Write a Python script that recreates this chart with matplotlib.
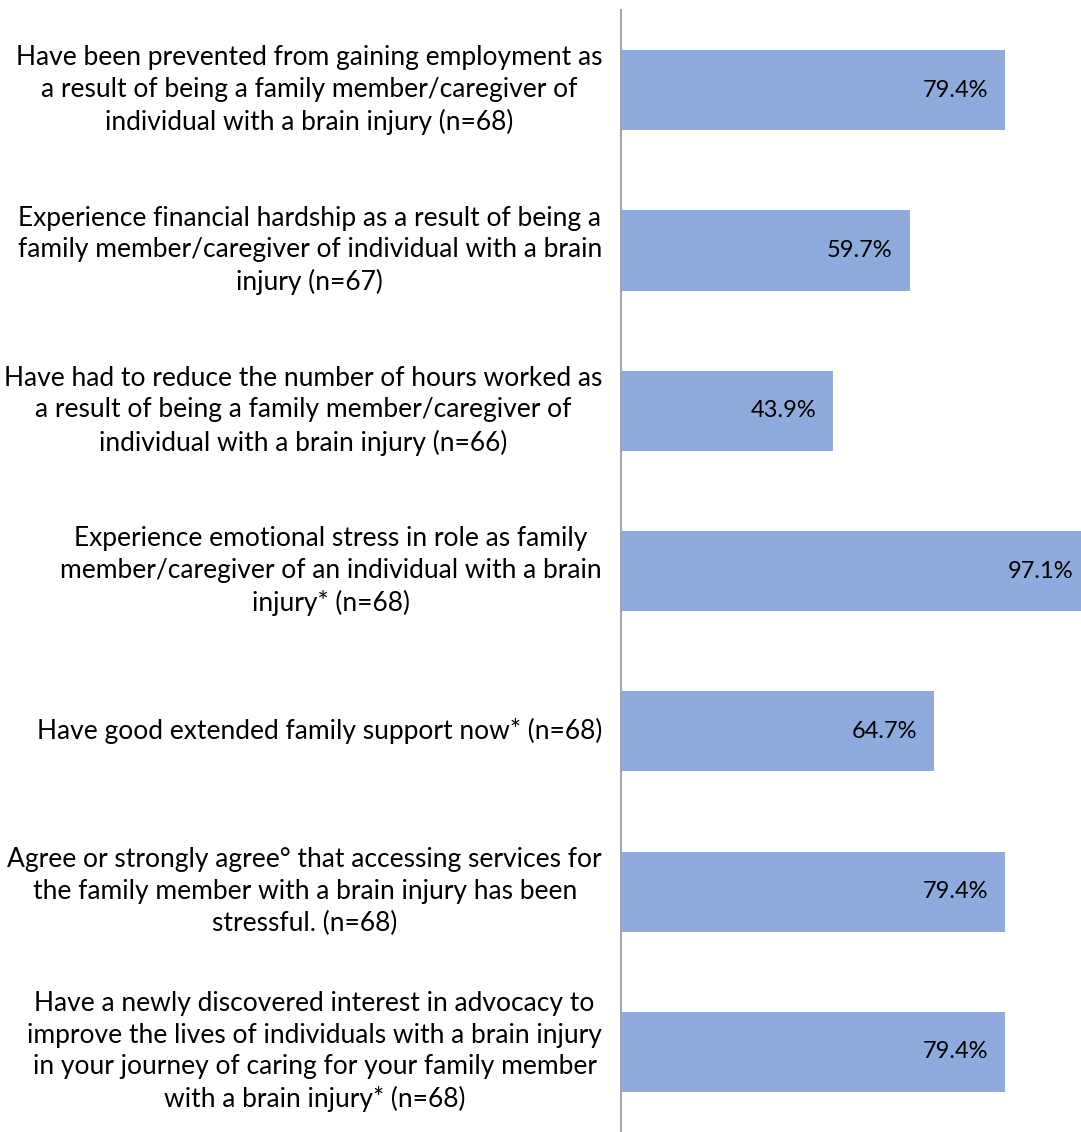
import matplotlib.pyplot as plt
import matplotlib.transforms as mtransforms

categorias = [
    "Have been prevented from gaining employment as\na result of being a family member/caregiver of\nindividual with a brain injury (n=68)",
    "Experience financial hardship as a result of being a\nfamily member/caregiver of individual with a brain\ninjury (n=67)",
    "Have had to reduce the number of hours worked as\na result of being a family member/caregiver of\nindividual with a brain injury (n=66)",
    "Experience emotional stress in role as family\nmember/caregiver of an individual with a brain\ninjury* (n=68)",
    "Have good extended family support now* (n=68)",
    "Agree or strongly agree\u00b0 that accessing services for\nthe family member with a brain injury has been\nstressful. (n=68)",
    "Have a newly discovered interest in advocacy to\nimprove the lives of individuals with a brain injury\nin your journey of caring for your family member\nwith a brain injury* (n=68)",
]
valores = [79.4, 59.7, 43.9, 97.1, 64.7, 79.4, 79.4]

plt.rcParams['font.family'] = ['Lato', 'DejaVu Sans']

fig = plt.figure(figsize=(10.81, 11.32), dpi=100)
# eixo ocupa da linha vertical ate a borda direita
ax = fig.add_axes([621 / 1081, 0, 460 / 1081, 1122 / 1132])

y = list(range(len(valores)))
ax.barh(y, valores, height=0.5, color='#8FAADC')
ax.set_ylim(len(valores) - 0.5, -0.5)
ax.set_xlim(0, 460 / 4.836)

for s in ['top', 'right', 'bottom']:
    ax.spines[s].set_visible(False)
ax.spines['left'].set_color('#A6A6A6')
ax.spines['left'].set_linewidth(1.5)
ax.set_xticks([])
ax.set_yticks([])

# rotulos de valor dentro da ponta da barra
desloc = mtransforms.offset_copy(ax.transData, fig=fig, x=-17, y=0, units='dots')
for i, v in enumerate(valores):
    ax.text(v, i, f"{v:.1f}%", transform=desloc, ha='right', va='center',
            fontsize=17, color='black', clip_on=False)

# rotulos das categorias, centralizados e encostados no eixo
rot = mtransforms.offset_copy(ax.get_yaxis_transform(), fig=fig, x=-19, y=0, units='dots')
for i, c in enumerate(categorias):
    ax.text(0, i, c, transform=rot, ha='right', va='center', multialignment='center',
            fontsize=19, color='black', linespacing=1.33)

fig.savefig('out.png', dpi=100)
